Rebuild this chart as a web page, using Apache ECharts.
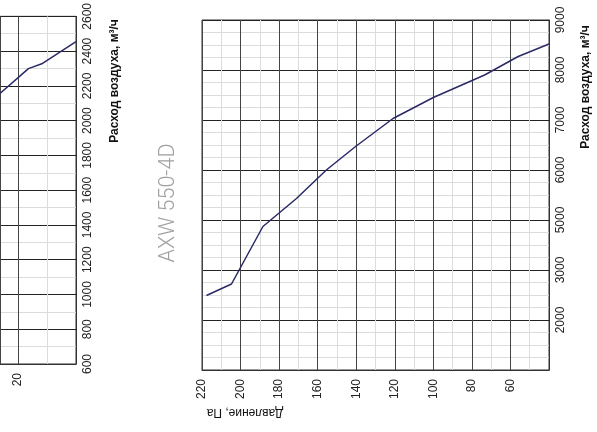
<!DOCTYPE html>
<html>
<head>
<meta charset="utf-8">
<script src="https://cdn.jsdelivr.net/npm/echarts@6/dist/echarts.min.js"></script>
<style>
html,body{margin:0;padding:0;background:#fff;}
#chart{width:597px;height:432px;}
</style>
</head>
<body>
<div id="chart"></div>
<script>
// Main chart (AXW 550-4D): pressure (Pa) vs air flow (m3/h)
var mainPressure = [217.7, 204.7, 188.4, 171, 155.5, 140, 120.9, 100, 73.4, 56, 40];
var mainFlow     = [3490, 3720, 4870, 5430, 6000, 6480, 7030, 7450, 7900, 8270, 8520];
// Printed flow tick labels (bottom to top, as shown on the original)
var mainFlowTickLabels = ['', '2000', '3000', '5000', '6000', '7000', '8000', '9000'];
// Partially visible neighbouring chart on the left edge (only 0..26 Pa visible)
var leftPressure = [26.2, 16.4, 11.8, 0];
var leftFlow     = [2156, 2299, 2327, 2455];
var titleText = 'AXW 550-4D';
var flowName = 'Расход воздуха, м³/ч';
var pressureName = 'Давление, Па';

var FONT = '"Liberation Sans", Arial, sans-serif';
var majorColor = '#333';
var minorColor = '#dcdcdc';

function makeData(xs, ys) {
  var d = [];
  for (var i = 0; i < xs.length; i++) d.push([xs[i], ys[i]]);
  return d;
}
function plain(v) { return String(v); }

var chart = echarts.init(document.getElementById('chart'), null, {renderer: 'canvas'});
var option = {
  animation: false,
  backgroundColor: '#fff',
  grid: [
    {left: 202, top: 20, width: 347, height: 350, show: true, borderColor: majorColor, borderWidth: 1, containLabel: false},
    {left: 0, top: 14, width: 76, height: 350, show: true, borderColor: majorColor, borderWidth: 1, containLabel: false}
  ],
  xAxis: [
    {
      gridIndex: 0, type: 'value', min: 40, max: 220, interval: 20, inverse: true,
      axisLine: {show: true, lineStyle: {color: majorColor}},
      axisTick: {show: false},
      axisLabel: {rotate: 90, fontSize: 12, color: '#222', fontFamily: FONT, margin: 9, showMinLabel: false, showMaxLabel: true, formatter: plain},
      splitLine: {show: true, lineStyle: {color: '#444', width: 1}},
      minorTick: {show: false, splitNumber: 2},
      minorSplitLine: {show: true, lineStyle: {color: minorColor, width: 1}}
    },
    {
      gridIndex: 1, type: 'value', min: 0, max: 26.2, interval: 20, inverse: true,
      axisLine: {show: true, lineStyle: {color: majorColor}},
      axisTick: {show: false},
      axisLabel: {rotate: 90, fontSize: 12, color: '#222', fontFamily: FONT, margin: 9, showMinLabel: false, showMaxLabel: false, formatter: plain},
      splitLine: {show: true, lineStyle: {color: '#444', width: 1}},
      minorTick: {show: false, splitNumber: 2},
      minorSplitLine: {show: true, lineStyle: {color: minorColor, width: 1}}
    }
  ],
  yAxis: [
    {
      gridIndex: 0, type: 'value', position: 'right', min: 2000, max: 9000, interval: 1000,
      axisLine: {show: true, lineStyle: {color: majorColor}},
      axisTick: {show: false},
      axisLabel: {
        rotate: 90, fontSize: 12, color: '#222', fontFamily: FONT, margin: 6,
        formatter: function (v) { return mainFlowTickLabels[Math.round((v - 2000) / 1000)] || ''; }
      },
      splitLine: {show: true, lineStyle: {color: '#222', width: 1}},
      minorTick: {show: false, splitNumber: 4},
      minorSplitLine: {show: true, lineStyle: {color: minorColor, width: 1}}
    },
    {
      gridIndex: 1, type: 'value', position: 'right', min: 600, max: 2600, interval: 200,
      axisLine: {show: true, lineStyle: {color: majorColor}},
      axisTick: {show: false},
      axisLabel: {rotate: 90, fontSize: 12, color: '#222', fontFamily: FONT, margin: 6, formatter: plain},
      splitLine: {show: true, lineStyle: {color: '#222', width: 1}},
      minorTick: {show: false, splitNumber: 2},
      minorSplitLine: {show: true, lineStyle: {color: minorColor, width: 1}}
    }
  ],
  series: [
    {
      type: 'line', xAxisIndex: 0, yAxisIndex: 0, data: makeData(mainPressure, mainFlow),
      showSymbol: false, symbol: 'none', smooth: false,
      lineStyle: {color: '#2a2a66', width: 1.5}, z: 5
    },
    {
      type: 'line', xAxisIndex: 1, yAxisIndex: 1, data: makeData(leftPressure, leftFlow),
      showSymbol: false, symbol: 'none', smooth: false,
      lineStyle: {color: '#2a2a66', width: 1.5}, z: 5
    }
  ],
  graphic: [
    {
      type: 'text', x: 169, y: 203, rotation: Math.PI / 2,
      style: {text: titleText, fill: '#a0a0a0', fontSize: 21.5, fontFamily: 'Roboto, "Liberation Sans", sans-serif', fontWeight: 300, align: 'center', verticalAlign: 'middle'}
    },
    {
      type: 'text', x: 586, y: 87, rotation: Math.PI / 2,
      style: {text: flowName, fill: '#111', fontSize: 12, fontFamily: FONT, fontWeight: 'bold', align: 'center', verticalAlign: 'middle'}
    },
    {
      type: 'text', x: 115, y: 81, rotation: Math.PI / 2,
      style: {text: flowName, fill: '#111', fontSize: 12, fontFamily: FONT, fontWeight: 'bold', align: 'center', verticalAlign: 'middle'}
    },
    {
      type: 'text', x: 245, y: 412, rotation: Math.PI,
      style: {text: pressureName, fill: '#111', fontSize: 12, fontFamily: FONT, align: 'center', verticalAlign: 'middle'}
    }
  ]
};
chart.setOption(option);
</script>
</body>
</html>
